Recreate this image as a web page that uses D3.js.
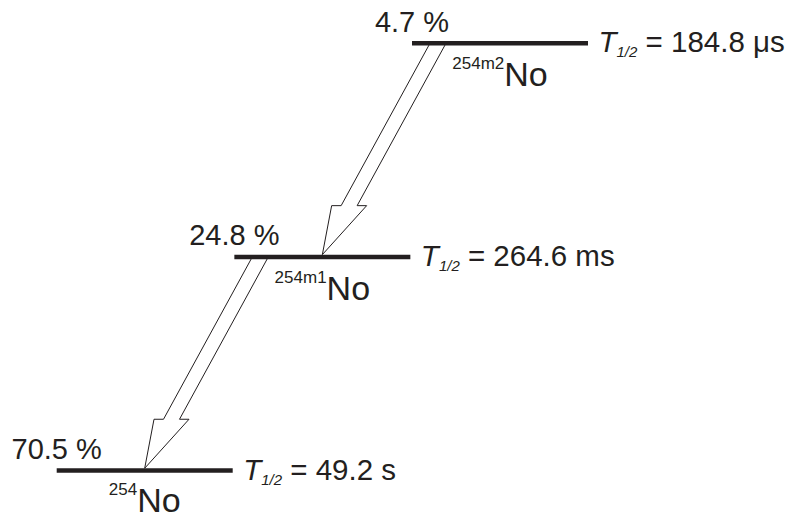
<!DOCTYPE html>
<html>
<head>
<meta charset="utf-8">
<script src="https://cdn.jsdelivr.net/npm/d3@7"></script>
<style>
  html, body { margin: 0; padding: 0; background: #fff; }
  svg { display: block; }
  text { white-space: pre; }
</style>
</head>
<body>
<svg id="chart" width="788" height="515"></svg>
<script>
// Level scheme of 254No: ground state and two isomers
const isotopes = ["254", "254m1", "254m2"];
const element = "No";
const populations = [70.5, 24.8, 4.7];        // %
const halfLives = [49.2, 264.6, 184.8];
const halfLifeUnits = ["s", "ms", "\u03bcs"];
const decays = [[2, 1], [1, 0]];              // from level -> to level

const ink = "#231f20";
const font = "'Liberation Sans', Arial, Helvetica, sans-serif";
const barLen = 176, barThick = 4.5;

const svg = d3.select("#chart");
const x = d3.scaleLinear().domain([0, 2]).range([56.7, 412]);
const y = d3.scaleLinear().domain([0, 2]).range([470.5, 43.3]);

const levels = isotopes.map((iso, i) => ({
  i, iso, pop: populations[i], t: halfLives[i], unit: halfLifeUnits[i]
}));

// Open arrows for each decay, drawn before the bars
const shaftHalf = 8, headHalf = 17.5, headLen = 49;
const line = d3.line();
svg.append("g").selectAll("path")
  .data(decays)
  .join("path")
  .attr("d", ([a, b]) => {
    const x0 = x(a) + 25, y0 = y(a) + barThick / 2 - 0.5;
    const xt = x(b) + barLen / 2, yt = y(b) - barThick / 2;
    const yh = yt - headLen;
    const xc = x0 + (xt - x0) * (yh - y0) / (yt - y0);
    return line([
      [x0 - shaftHalf, y0], [xc - shaftHalf, yh], [xc - headHalf, yh],
      [xt, yt],
      [xc + headHalf, yh], [xc + shaftHalf, yh], [x0 + shaftHalf, y0]
    ]);
  })
  .attr("fill", "#fff")
  .attr("stroke", ink)
  .attr("stroke-width", 1)
  .attr("stroke-linejoin", "miter");

// Level bars
svg.append("g").selectAll("line")
  .data(levels)
  .join("line")
  .attr("x1", d => x(d.i))
  .attr("x2", d => x(d.i) + barLen)
  .attr("y1", d => y(d.i))
  .attr("y2", d => y(d.i))
  .attr("stroke", ink)
  .attr("stroke-width", barThick);

// Population labels
svg.append("g").selectAll("text")
  .data(levels)
  .join("text")
  .attr("x", d => x(d.i))
  .attr("y", d => y(d.i) - 11.5)
  .attr("text-anchor", "middle")
  .attr("font-family", font)
  .attr("font-size", 29)
  .attr("fill", ink)
  .text(d => `${d.pop} %`);

// Nuclide names
const names = svg.append("g").selectAll("text")
  .data(levels)
  .join("text")
  .attr("x", d => x(d.i) + barLen / 2)
  .attr("y", d => Math.min(y(d.i) + 43, 511.5))
  .attr("text-anchor", "middle")
  .attr("font-family", font)
  .attr("fill", ink);
names.append("tspan").attr("font-size", 17).attr("dy", -17).text(d => d.iso);
names.append("tspan").attr("font-size", 34).attr("dy", 17).text(element);

// Half-lives
const hl = svg.append("g").selectAll("text")
  .data(levels)
  .join("text")
  .attr("x", d => x(d.i) + barLen + 10.5)
  .attr("y", d => y(d.i) + 9)
  .attr("font-family", font)
  .attr("font-size", 29.5)
  .attr("fill", ink);
hl.append("tspan").attr("font-style", "italic").text("T");
hl.append("tspan").attr("font-style", "italic").attr("font-size", 15).attr("dy", 5).text("1/2");
hl.append("tspan").attr("dy", -5).text(d => ` = ${d.t} ${d.unit}`);
</script>
</body>
</html>
